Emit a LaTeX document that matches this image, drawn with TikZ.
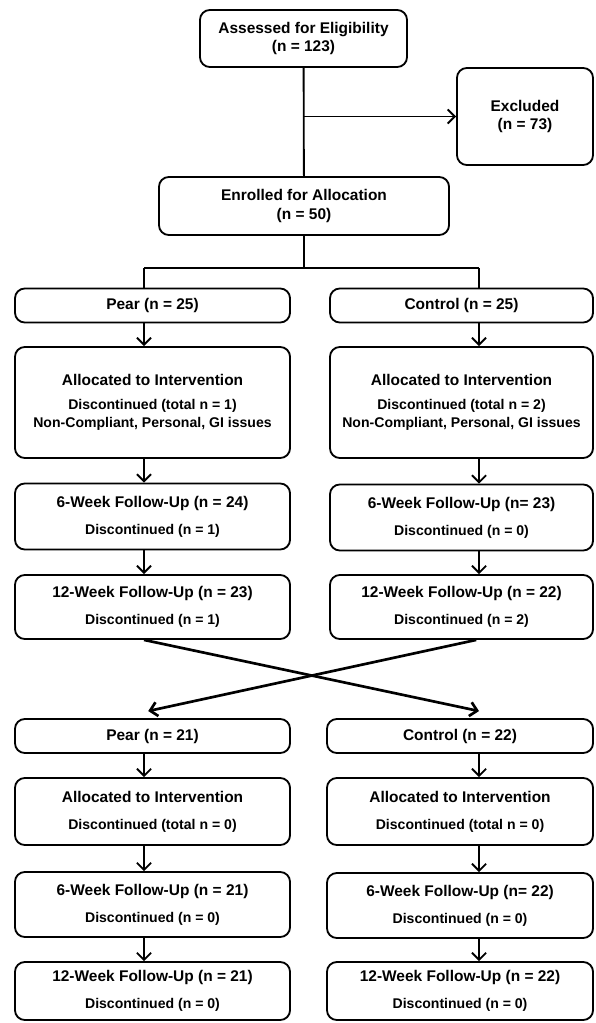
\documentclass[tikz,border=0pt]{standalone}
\usepackage{fontspec}
\setmainfont{Liberation Sans}
\usetikzlibrary{arrows.meta,calc}
\newcommand{\subln}[1]{{\fontsize{10}{12}\selectfont #1}}

\begin{document}
\begin{tikzpicture}[x=0.025cm, y=-0.025cm, line width=1.3pt,
    >={Straight Barb[length=5pt,width=10pt]},
    box/.style={draw, rounded corners=7pt, align=center, inner sep=0pt,
        font=\bfseries\fontsize{11}{13}\selectfont}]
    \useasboundingbox (0,0) rectangle (595,1023);

    % columns for the connectors
    \coordinate (colL) at (144,0);
    \coordinate (colR) at (479,0);

    \node[box, minimum width=5.175cm, minimum height=1.425cm] (assess) at (303.5,38.5)
        {Assessed for Eligibility\\(n = 123)};
    \node[box, minimum width=3.4cm, minimum height=2.425cm] (excl) at (525,116.5)
        {Excluded\\(n = 73)};
    \node[box, minimum width=7.25cm, minimum height=1.45cm] (enrol) at (304,206)
        {Enrolled for Allocation\\(n = 50)};

    \node[box, minimum width=6.875cm, minimum height=0.85cm] (pearA) at (152.5,305.5) {Pear (n = 25)};
    \node[box, minimum width=6.575cm, minimum height=0.85cm] (ctrlA) at (461.5,305.5) {Control (n = 25)};

    \node[box, minimum width=6.875cm, minimum height=2.775cm] (allocAL) at (152.5,402.5)
        {Allocated to Intervention\\[4pt]\subln{Discontinued (total n = 1)}\\\subln{Non-Compliant, Personal, GI issues}};
    \node[box, minimum width=6.575cm, minimum height=2.775cm] (allocAR) at (461.5,402.5)
        {Allocated to Intervention\\[4pt]\subln{Discontinued (total n = 2)}\\\subln{Non-Compliant, Personal, GI issues}};

    \node[box, minimum width=6.875cm, minimum height=1.65cm] (sixAL) at (152.5,516.5)
        {6-Week Follow-Up (n = 24)\\[6pt]\subln{Discontinued (n = 1)}};
    \node[box, minimum width=6.575cm, minimum height=1.65cm] (sixAR) at (461.5,517.5)
        {6-Week Follow-Up (n= 23)\\[6pt]\subln{Discontinued (n = 0)}};

    \node[box, minimum width=6.875cm, minimum height=1.6cm] (twelveAL) at (152.5,607)
        {12-Week Follow-Up (n = 23)\\[6pt]\subln{Discontinued (n = 1)}};
    \node[box, minimum width=6.575cm, minimum height=1.6cm] (twelveAR) at (461.5,607)
        {12-Week Follow-Up (n = 22)\\[6pt]\subln{Discontinued (n = 2)}};

    \node[box, minimum width=6.875cm, minimum height=0.85cm] (pearB) at (152.5,736) {Pear (n = 21)};
    \node[box, minimum width=6.65cm, minimum height=0.85cm] (ctrlB) at (460,736) {Control (n = 22)};

    \node[box, minimum width=6.875cm, minimum height=1.675cm] (allocBL) at (152.5,811.5)
        {Allocated to Intervention\\[6pt]\subln{Discontinued (total n = 0)}};
    \node[box, minimum width=6.65cm, minimum height=1.675cm] (allocBR) at (460,811.5)
        {Allocated to Intervention\\[6pt]\subln{Discontinued (total n = 0)}};

    \node[box, minimum width=6.875cm, minimum height=1.625cm] (sixBL) at (152.5,904.5)
        {6-Week Follow-Up (n = 21)\\[6pt]\subln{Discontinued (n = 0)}};
    \node[box, minimum width=6.65cm, minimum height=1.625cm] (sixBR) at (460,905.5)
        {6-Week Follow-Up (n= 22)\\[6pt]\subln{Discontinued (n = 0)}};

    \node[box, minimum width=6.875cm, minimum height=1.45cm] (twelveBL) at (152.5,991)
        {12-Week Follow-Up (n = 21)\\[6pt]\subln{Discontinued (n = 0)}};
    \node[box, minimum width=6.65cm, minimum height=1.45cm] (twelveBR) at (460,991)
        {12-Week Follow-Up (n = 22)\\[6pt]\subln{Discontinued (n = 0)}};

    % screening
    \draw (assess) -- (enrol);
    \coordinate (split) at (assess.south |- excl.west);
    \draw[->] (split) -- (excl.west);

    % allocation
    \coordinate (fork) at ($(enrol.south)+(0,32)$);
    \draw (enrol.south) -- (fork);
    \draw (fork -| colL) -- (fork -| colR);
    \draw (fork -| colL) -- (pearA.north -| colL);
    \draw (fork -| colR) -- (ctrlA.north -| colR);

    % first period
    \draw[->] (pearA.south -| colL) -- (allocAL.north -| colL);
    \draw[->] (allocAL.south -| colL) -- (sixAL.north -| colL);
    \draw[->] (sixAL.south -| colL) -- (twelveAL.north -| colL);
    \draw[->] (ctrlA.south -| colR) -- (allocAR.north -| colR);
    \draw[->] (allocAR.south -| colR) -- (sixAR.north -| colR);
    \draw[->] (sixAR.south -| colR) -- (twelveAR.north -| colR);

    % crossover
    \draw[->, line width=1.9pt] (twelveAL.south -| colL) -- ([yshift=5pt]ctrlB.north -| colR);
    \draw[->, line width=1.9pt] ([xshift=-2pt]twelveAR.south -| colR) -- ([xshift=3pt,yshift=5pt]pearB.north -| colL);

    % second period
    \draw[->] (pearB.south -| colL) -- (allocBL.north -| colL);
    \draw[->] (allocBL.south -| colL) -- (sixBL.north -| colL);
    \draw[->] (sixBL.south -| colL) -- (twelveBL.north -| colL);
    \draw[->] (ctrlB.south -| colR) -- (allocBR.north -| colR);
    \draw[->] (allocBR.south -| colR) -- (sixBR.north -| colR);
    \draw[->] (sixBR.south -| colR) -- (twelveBR.north -| colR);
\end{tikzpicture}
\end{document}
